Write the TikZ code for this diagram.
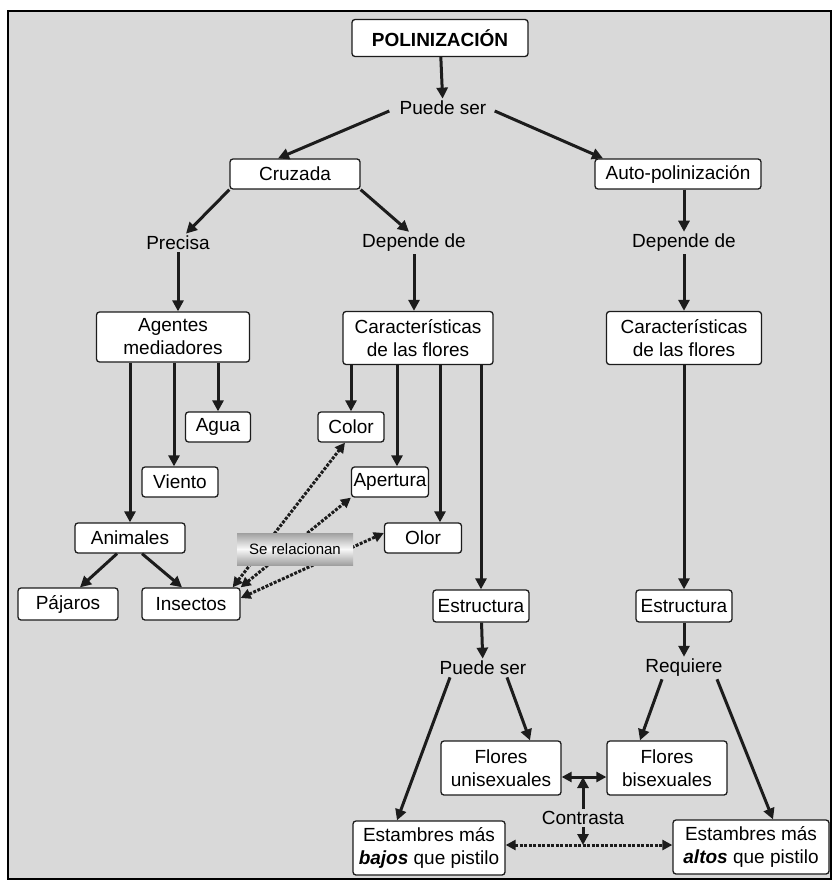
\documentclass[tikz,border=0pt]{standalone}
\usepackage{fontspec}
\setmainfont{Liberation Sans}
\usetikzlibrary{arrows.meta, positioning, calc}
\definecolor{PanelGray}{RGB}{217,217,217}
\definecolor{LinkDark}{RGB}{28,28,28}

\begin{document}
\begin{tikzpicture}[x=1pt, y=-1pt, thick, font=\fontsize{19}{23}\selectfont,
    concept/.style={draw=LinkDark, fill=white, rounded corners=3pt, line width=1.3pt, align=center, inner sep=2pt, minimum height=30pt},
    phrase/.style={inner sep=2pt},
    link/.style={draw=LinkDark, line width=3pt, -{Triangle[length=11pt, width=11pt]}},
    twoway/.style={link, {Triangle[length=10pt, width=10pt]}-{Triangle[length=10pt, width=10pt]}},
    related/.style={twoway, dash pattern=on 3pt off 1.5pt}]
        \useasboundingbox (0,0) rectangle (834,882);
        \draw[fill=PanelGray, draw=black, line width=1.5pt] (8,11) rectangle (831,879);

        \node[concept, minimum width=176pt, minimum height=37pt, font=\fontsize{19}{23}\selectfont\bfseries] (title) at (440,38) {POLINIZACIÓN};
        \node[phrase] (puede1) at (443,108) {Puede ser};
        \node[concept, minimum width=130pt] (cruzada) at (295,174) {Cruzada};
        \node[concept, minimum width=166pt] (auto) at (678,174) {Auto-polinización};
        \node[phrase] (precisa) at (178,243) {Precisa};
        \node[phrase] (depende1) at (414,243) {Depende de};
        \node[phrase] (depende2) at (684,243) {Depende de};
        \node[concept, minimum width=153pt, minimum height=50pt] (agentes) at (173,337) {Agentes\\mediadores};
        \node[concept, minimum width=150pt, minimum height=53pt] (caract1) at (418,338) {Características\\de las flores};
        \node[concept, minimum width=155pt, minimum height=53pt] (caract2) at (684,338) {Características\\de las flores};
        \node[concept, minimum width=65pt] (agua) at (218,427) {Agua};
        \node[concept, minimum width=76pt] (viento) at (180,482) {Viento};
        \node[concept, minimum width=110pt] (animales) at (130,538) {Animales};
        \node[concept, minimum width=100pt, minimum height=32pt] (pajaros) at (68,604) {Pájaros};
        \node[concept, minimum width=98pt, minimum height=32pt] (insectos) at (191,604) {Insectos};
        \node[concept, minimum width=66pt] (color) at (351,427) {Color};
        \node[concept, minimum width=76pt] (apertura) at (390,482) {Apertura};
        \node[concept, minimum width=77pt] (olor) at (423,538) {Olor};
        \node[concept, minimum width=96pt, minimum height=32pt] (estr1) at (481,606) {Estructura};
        \node[concept, minimum width=96pt, minimum height=32pt] (estr2) at (684,606) {Estructura};
        \node[phrase] (puede2) at (483,668) {Puede ser};
        \node[phrase] (requiere) at (684,668) {Requiere};
        \node[concept, minimum width=120pt, minimum height=54pt] (unisex) at (501,768) {Flores\\unisexuales};
        \node[concept, minimum width=120pt, minimum height=54pt] (bisex) at (667,768) {Flores\\bisexuales};
        \node[phrase] (contrasta) at (583,818) {Contrasta};
        \node[concept, minimum width=152pt, minimum height=54pt] (bajos) at (429,848) {Estambres más\\\textbf{\textit{bajos}} que pistilo};
        \node[concept, minimum width=156pt, minimum height=54pt] (altos) at (751,847) {Estambres más\\\textbf{\textit{altos}} que pistilo};
        \coordinate (ctop) at (583,777);
        \coordinate (cbot) at (583,845);

        \draw[link] (title) -- (puede1);
        \draw[link] ([xshift=-8pt, yshift=-3pt]puede1.west) -- ([xshift=-17pt]cruzada.north);
        \draw[link] ([xshift=6pt, yshift=-3pt]puede1.east) -- ([xshift=-75pt]auto.north);
        \draw[link] (cruzada.south west) -- ([xshift=8pt]precisa.north);
        \draw[link] (cruzada.south east) -- ([xshift=-5pt]depende1.north);
        \draw[link] (auto.south -| depende2) -- (depende2);
        \draw[link] (precisa) -- (agentes.north -| precisa);
        \draw[link] (depende1) -- (caract1.north -| depende1);
        \draw[link] (depende2) -- (caract2);
        \draw[link] (agentes.south -| agua) -- (agua);
        \draw[link] ($(viento.north |- agentes.south)+(-6,0)$) -- ([xshift=-6pt]viento.north);
        \draw[link] (agentes.south -| animales) -- (animales);
        \draw[link] ([xshift=-13pt]animales.south) -- ([xshift=12pt]pajaros.north);
        \draw[link] ([xshift=12pt]animales.south) -- ([xshift=-9pt]insectos.north);
        \draw[link] (caract1.south -| color) -- (color);
        \draw[link] ($(apertura.north |- caract1.south)+(7,0)$) -- ([xshift=7pt]apertura.north);
        \draw[link] ($(olor.north |- caract1.south)+(17,0)$) -- ([xshift=17pt]olor.north);
        \draw[link] (caract1.south -| estr1) -- (estr1);
        \draw[link] (caract2) -- (estr2);
        \draw[link] (estr1) -- (puede2);
        \draw[link] (estr2) -- (requiere);
        \draw[link] ([xshift=-33pt]puede2.south) -- ([xshift=-32pt]bajos.north);
        \draw[link] ([xshift=24pt]puede2.south) -- ([xshift=29pt]unisex.north);
        \draw[link] ([xshift=-22pt]requiere.south) -- ([xshift=-27pt]bisex.north);
        \draw[link] ([xshift=33pt]requiere.south) -- ([xshift=22pt]altos.north);
        \draw[link] (contrasta) -- (ctop);
        \draw[twoway] (unisex.east |- ctop) -- (bisex.west |- ctop);
        \draw[link] (contrasta) -- (cbot);
        \draw[related] (bajos.east |- cbot) -- (altos.west |- cbot);

        \draw[related] ([xshift=-8pt]insectos.north east) -- ([xshift=-6pt]color.south);
        \draw[related] (insectos.north east) -- (apertura.south west);
        \draw[related] ([yshift=6pt]insectos.east) -- ([yshift=5pt]olor.west);
        \node[shade, top color=gray!75, bottom color=gray!75, middle color=gray!5, minimum width=116pt, minimum height=32pt, inner sep=1pt, font=\fontsize{15}{17}\selectfont] (relacion) at (295,549) {Se relacionan};
    \end{tikzpicture}
\end{document}
